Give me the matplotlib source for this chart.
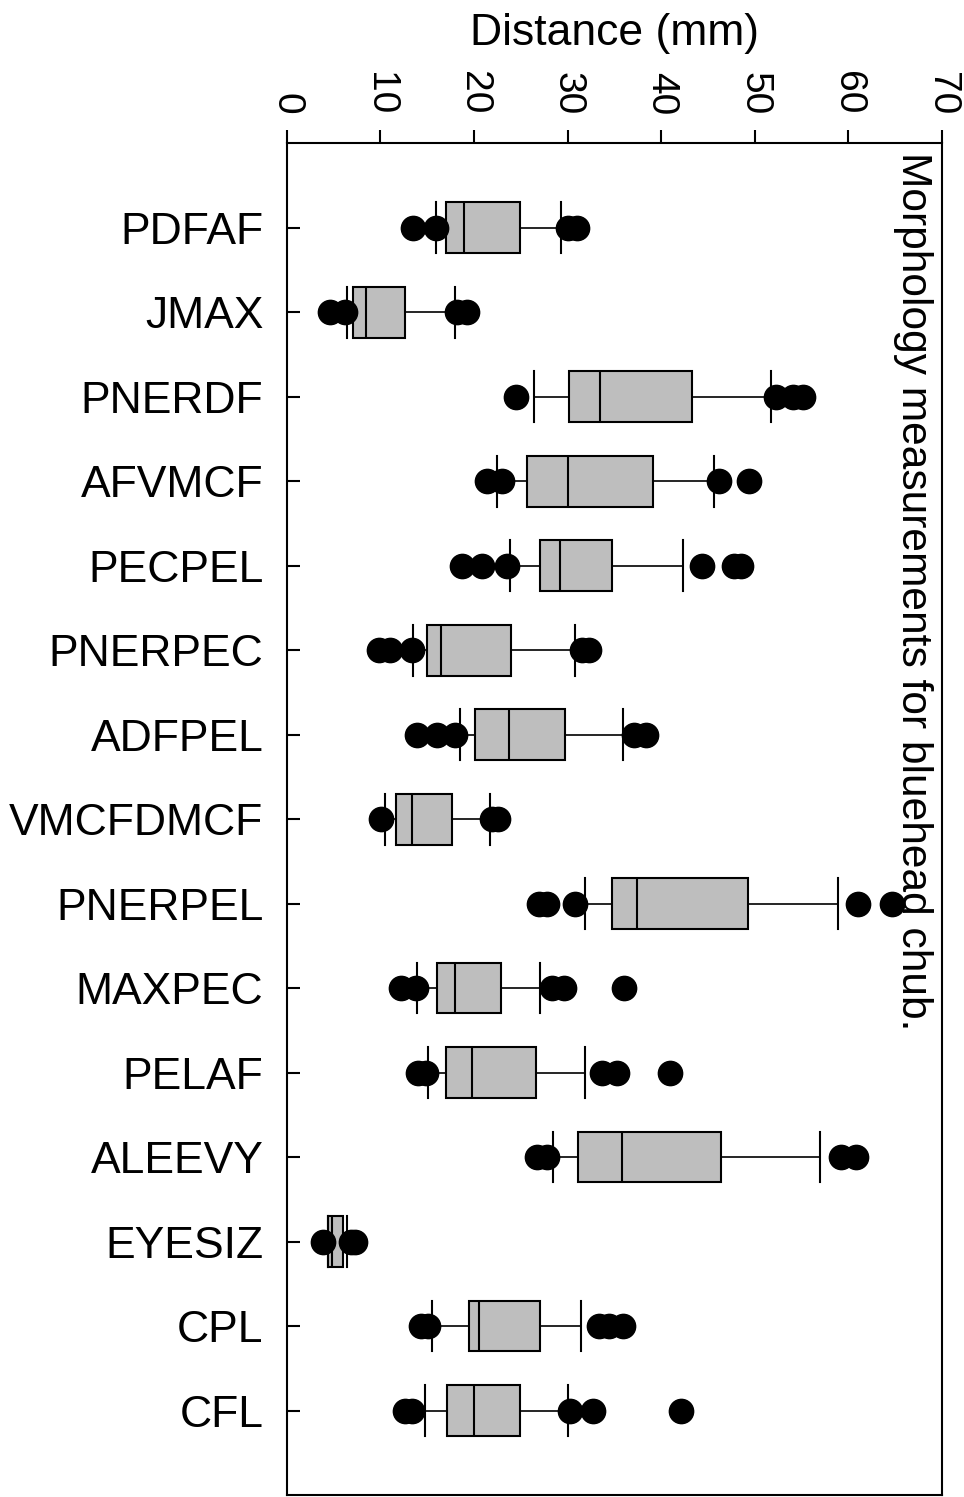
import matplotlib
matplotlib.use("Agg")
import matplotlib.pyplot as plt

plt.rcParams['font.family'] = ['Liberation Sans', 'DejaVu Sans']

# measurement names, top to bottom
categories = ['PDFAF', 'JMAX', 'PNERDF', 'AFVMCF', 'PECPEL', 'PNERPEC', 'ADFPEL',
              'VMCFDMCF', 'PNERPEL', 'MAXPEC', 'PELAF', 'ALEEVY', 'EYESIZ', 'CPL', 'CFL']

# box plot summaries (mm)
whisker_low = [15.9, 6.4, 26.4, 22.5, 23.8, 13.5, 18.5, 10.5, 31.9, 13.9, 15.1, 28.4, 4.4, 15.5, 14.8]
quart_1 = [17.0, 7.1, 30.2, 25.7, 27.1, 15.0, 20.1, 11.7, 34.8, 16.0, 17.0, 31.1, 4.4, 19.5, 17.1]
medians = [18.9, 8.5, 33.5, 30.0, 29.2, 16.5, 23.7, 13.4, 37.4, 18.0, 19.8, 35.8, 4.8, 20.5, 20.0]
quart_3 = [24.9, 12.6, 43.3, 39.1, 34.8, 24.0, 29.7, 17.6, 49.3, 22.9, 26.6, 46.4, 6.0, 27.1, 24.9]
whisker_high = [29.3, 18.0, 51.8, 45.7, 42.4, 30.8, 35.9, 21.7, 58.9, 27.1, 31.9, 57.0, 6.4, 31.4, 30.0]
outliers = [
    [13.5, 15.9, 30.0, 31.0],
    [4.6, 6.2, 18.2, 19.3],
    [24.5, 52.3, 54.1, 55.2],
    [21.4, 23.0, 46.2, 49.4],
    [18.7, 20.9, 23.5, 44.4, 47.8, 48.6],
    [9.8, 11.0, 13.4, 31.6, 32.3],
    [13.9, 16.0, 18.0, 37.1, 38.4],
    [10.1, 21.9, 22.6],
    [26.9, 27.8, 30.8, 61.1, 64.7],
    [12.2, 13.8, 28.3, 29.6, 36.0],
    [14.0, 14.9, 33.7, 35.3, 41.0],
    [26.7, 27.8, 59.3, 60.9],
    [3.9, 6.8, 7.3],
    [14.3, 15.1, 33.4, 34.4, 35.9],
    [12.6, 13.4, 30.3, 32.7, 42.1],
]

stats = []
for i in range(len(categories)):
    stats.append({'label': categories[i], 'whislo': whisker_low[i], 'q1': quart_1[i],
                  'med': medians[i], 'q3': quart_3[i], 'whishi': whisker_high[i],
                  'fliers': outliers[i]})

fig = plt.figure(figsize=(9.64, 14.97), dpi=100)
ax = fig.add_axes([0.2977, 0.0013, 0.679, 0.903])

positions = list(range(1, len(categories) + 1))
ax.bxp(stats, positions=positions, vert=False, widths=0.6, capwidths=0.6,
       patch_artist=True, showfliers=True,
       boxprops=dict(facecolor='#bebebe', edgecolor='black', linewidth=1.5),
       medianprops=dict(color='black', linewidth=1.5),
       whiskerprops=dict(color='black', linewidth=1.2),
       capprops=dict(color='black', linewidth=1.5),
       flierprops=dict(marker='o', markerfacecolor='black', markeredgecolor='black',
                       markersize=17.5, linestyle='none'))

ax.set_xlim(0, 70)
ax.set_ylim(16, 0)
ax.set_yticks(positions)
ax.set_yticklabels(categories, fontsize=32)
ax.set_xticks(range(0, 71, 10))
ax.xaxis.tick_top()
ax.xaxis.set_label_position('top')
ax.tick_params(axis='x', direction='out', length=9.5, width=1.5, labelsize=28,
               labelrotation=270, pad=11)
ax.tick_params(axis='y', direction='in', length=9.5, width=1.5, pad=17)
for lbl in ax.get_xticklabels():
    lbl.set_va('bottom')
for s in ax.spines.values():
    s.set_linewidth(1.5)

ax.set_xlabel('Distance (mm)', fontsize=32, labelpad=19)

fig.text(933 / 964, 1 - 152 / 1497, 'Morphology measurements for bluehead chub.',
         rotation=270, ha='right', va='top', fontsize=30.6)

fig.savefig('out.png', dpi=100)
